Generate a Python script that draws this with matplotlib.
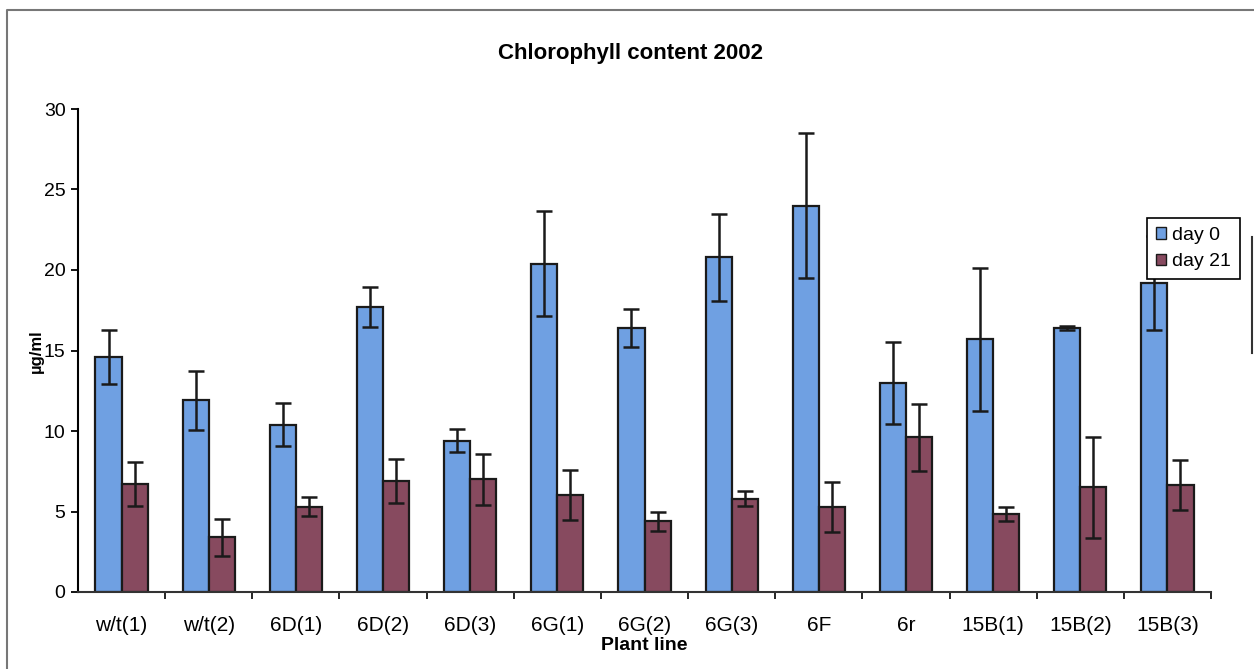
import numpy as np
import matplotlib
matplotlib.use("Agg")
import matplotlib.pyplot as plt
from matplotlib.lines import Line2D

plt.rcParams["font.family"] = ["Liberation Sans", "DejaVu Sans"]

# ==========================================================
# Data
# ==========================================================

plant_lines = ["w/t(1)", "w/t(2)", "6D(1)", "6D(2)", "6D(3)", "6G(1)", "6G(2)",
               "6G(3)", "6F", "6r", "15B(1)", "15B(2)", "15B(3)"]

day0 = [14.6, 11.9, 10.4, 17.7, 9.4, 20.4, 16.4, 20.8, 24.0, 13.0, 15.7, 16.4, 19.2]
day0_err = [1.65, 1.85, 1.35, 1.25, 0.7, 3.25, 1.2, 2.7, 4.5, 2.55, 4.45, 0.1, 2.9]

day21 = [6.7, 3.4, 5.3, 6.9, 7.0, 6.0, 4.4, 5.8, 5.3, 9.6, 4.85, 6.5, 6.65]
day21_err = [1.35, 1.15, 0.6, 1.35, 1.6, 1.55, 0.6, 0.45, 1.55, 2.1, 0.45, 3.15, 1.55]

y_ticks = [0, 5, 10, 15, 20, 25, 30]

BLUE = "#6fa0e2"
MAROON = "#874a5f"

W, H = 1254, 669

# ==========================================================
# Figure
# ==========================================================

fig = plt.figure(figsize=(W / 100, H / 100), dpi=100)
ax = fig.add_axes([78 / W, 77 / H, 1133 / W, 483 / H])

x = np.arange(len(plant_lines))
bw = 0.3

err_kw = dict(ecolor="#1a1a1a", elinewidth=1.8, capsize=6, capthick=1.8)

ax.bar(x - bw / 2, day0, bw, yerr=day0_err, color=BLUE, edgecolor="#1a1a1a",
       linewidth=1.6, error_kw=err_kw, label="day 0", zorder=2)
ax.bar(x + bw / 2, day21, bw, yerr=day21_err, color=MAROON, edgecolor="#1a1a1a",
       linewidth=1.6, error_kw=err_kw, label="day 21", zorder=2)

ax.set_xlim(-0.5, len(plant_lines) - 0.5)
ax.set_ylim(0, 30)

for s in ["top", "right"]:
    ax.spines[s].set_visible(False)
ax.spines["left"].set_linewidth(1.5)
ax.spines["bottom"].set_linewidth(1.5)
ax.spines["bottom"].set_color("#333333")

ax.set_yticks(y_ticks)
ax.tick_params(axis="y", direction="out", length=5, width=1.3, pad=4,
               labelsize=14)

# category labels at centres, tick marks between categories
ax.set_xticks(x)
ax.set_xticklabels(plant_lines, fontsize=15)
ax.tick_params(axis="x", which="major", length=0, pad=17)
ax.set_xticks(np.arange(0.5, len(plant_lines), 1.0), minor=True)
ax.tick_params(axis="x", which="minor", direction="out", length=5, width=1.2)

# title and axis labels placed as in the scan
fig.text(630 / W, 1 - 54 / H, "Chlorophyll content 2002", ha="center",
         va="center", fontsize=16, fontweight="bold")
fig.text(36 / W, 1 - 351 / H, "\u00b5g/ml", rotation=90, ha="center",
         va="center", fontsize=12, fontweight="bold")
fig.text(644 / W, 1 - 645 / H, "Plant line", ha="center", va="center",
         fontsize=14, fontweight="bold")

leg = fig.legend(loc="upper left", bbox_to_anchor=(1147 / W, 1 - 218 / H),
                 fontsize=14, frameon=True, fancybox=False, edgecolor="black",
                 framealpha=1, facecolor="white",
                 handlelength=0.55, handleheight=0.55, handletextpad=0.3,
                 borderpad=0.45, labelspacing=0.5, borderaxespad=0)
leg.get_frame().set_linewidth(1.2)
for p in leg.get_patches():
    p.set_linewidth(1.0)
leg.set_zorder(5)

# border of the scanned page
fig.add_artist(Line2D([7 / W, 7 / W, 1], [0, 1 - 10 / H, 1 - 10 / H],
                      color="#777777", linewidth=1.5))
fig.add_artist(Line2D([1252 / W, 1252 / W], [1 - 237 / H, 1 - 353 / H],
                      color="#333333", linewidth=1.5))

fig.savefig("out.png", dpi=100)
